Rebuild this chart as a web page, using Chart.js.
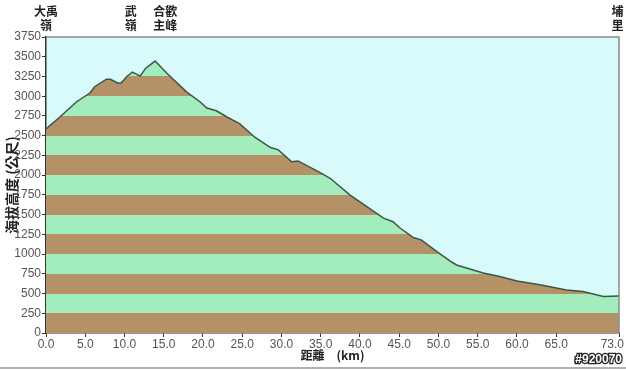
<!DOCTYPE html>
<html>
<head>
<meta charset="utf-8">
<script src="https://cdn.jsdelivr.net/npm/chart.js@4.4.0/dist/chart.umd.min.js"></script>
<style>
  html, body { margin: 0; padding: 0; background: #fff; }
  #wrap { width: 626px; height: 370px; position: relative; }
</style>
</head>
<body>
<div id="wrap"><canvas id="elev"></canvas></div>
<script>
// distance along the road (km) and elevation (m)
const distKm = [0, 1.8, 3.9, 5.6, 6.2, 7.7, 8.2, 9.2, 9.6, 10.3, 11.0, 12.0, 12.7, 13.9, 15.4, 17.9, 19.6, 20.5, 21.7, 23.0, 24.7, 26.6, 28.6, 29.6, 31.3, 32.1, 34.7, 36.2, 38.7, 43.0, 44.2, 45.1, 46.8, 47.8, 49.8, 51.5, 52.3, 55.7, 57.8, 60.0, 62.9, 66.3, 68.4, 71.0, 73.0];
const elevM = [2585, 2740, 2930, 3040, 3120, 3215, 3215, 3165, 3170, 3250, 3305, 3255, 3355, 3445, 3290, 3055, 2930, 2850, 2815, 2740, 2650, 2480, 2350, 2320, 2170, 2180, 2045, 1960, 1750, 1455, 1410, 1330, 1210, 1180, 1030, 912, 862, 760, 715, 660, 610, 545, 525, 462, 468];

const xTicks = [0, 5, 10, 15, 20, 25, 30, 35, 40, 45, 50, 55, 60, 65, 73];
const yMax = 3750;
const yStep = 250;

// place names shown above the plot
const placeKm = [0, 10.8, 15.2, 72.8];
const placeLines = [["大禹", "嶺"], ["武", "嶺"], ["合歡", "主峰"], ["埔", "里"]];

const skyCol = "#d9fafa";
const brownCol = "#b49167";
const greenCol = "#a3ecbb";
const lineCol = "#3c5546";

let pts = distKm.map((d, i) => ({ x: d, y: elevM[i] }));

function bandFill(c) {
  const chart = c.chart;
  if (!chart.chartArea) return brownCol;
  const ys = chart.scales.y;
  const y0 = ys.getPixelForValue(0);
  const y1 = ys.getPixelForValue(yMax);
  const g = chart.ctx.createLinearGradient(0, y0, 0, y1);
  for (let v = 0, i = 0; v < yMax; v += yStep, i++) {
    let col = i % 2 ? greenCol : brownCol;
    g.addColorStop(v / yMax, col);
    g.addColorStop((v + yStep) / yMax, col);
  }
  return g;
}

const decor = {
  id: 'decor',
  beforeDraw(chart) {
    const a = chart.chartArea;
    const ctx = chart.ctx;
    ctx.save();
    ctx.fillStyle = skyCol;
    ctx.fillRect(a.left, a.top, a.right - a.left, a.bottom - a.top);
    ctx.restore();
  },
  afterDraw(chart) {
    const a = chart.chartArea;
    const ctx = chart.ctx;
    const xs = chart.scales.x;
    ctx.save();
    // gray frame on top and right
    ctx.strokeStyle = "#8a8a8a";
    ctx.lineWidth = 1.5;
    ctx.beginPath();
    ctx.moveTo(a.left, a.top);
    ctx.lineTo(a.right, a.top);
    ctx.lineTo(a.right, a.bottom);
    ctx.stroke();

    // place labels
    ctx.fillStyle = "#222";
    ctx.font = "bold 12px 'Noto Sans CJK TC'";
    ctx.textAlign = "center";
    ctx.textBaseline = "middle";
    placeKm.forEach((k, i) => {
      let px = xs.getPixelForValue(k);
      ctx.fillText(placeLines[i][0], px, 11);
      ctx.fillText(placeLines[i][1], px, 25);
    });

    // image id in bottom corner
    ctx.font = "bold 12px 'Liberation Sans'";
    ctx.textAlign = "right";
    ctx.lineWidth = 2.5;
    ctx.strokeStyle = "#222";
    ctx.strokeText("#920070", 622, 360);
    ctx.fillStyle = "#fff";
    ctx.fillText("#920070", 622, 360);

    // bottom rule
    ctx.strokeStyle = "#b0b0b0";
    ctx.lineWidth = 2;
    ctx.beginPath();
    ctx.moveTo(0, 368);
    ctx.lineTo(626, 368);
    ctx.stroke();
    ctx.restore();
  }
};

new Chart(document.getElementById('elev'), {
  type: 'line',
  data: {
    datasets: [{
      data: pts,
      borderColor: lineCol,
      borderWidth: 1.5,
      pointRadius: 0,
      tension: 0,
      fill: 'start',
      backgroundColor: bandFill
    }]
  },
  options: {
    responsive: true,
    maintainAspectRatio: false,
    animation: false,
    layout: { padding: { top: 37, right: 7, left: 0, bottom: 0 } },
    plugins: { legend: { display: false }, tooltip: { enabled: false } },
    scales: {
      x: {
        type: 'linear',
        min: 0,
        max: 73,
        afterBuildTicks: s => { s.ticks = xTicks.map(v => ({ value: v })); },
        afterFit: s => { s.height = 37; s.paddingLeft = 0; s.paddingRight = 0; },
        ticks: {
          autoSkip: false,
          maxRotation: 0,
          padding: 0,
          color: "#555",
          font: { family: "Liberation Sans", size: 12 },
          // last label sits flush with the right edge in the original
          callback: v => v === 73 ? v.toFixed(1) + "\u2007\u2007" : v.toFixed(1)
        },
        grid: { drawOnChartArea: false, tickLength: 4, color: "#333" },
        border: { color: "#333", width: 1.5 },
        title: {
          display: true,
          text: "距離　(km)",
          color: "#222",
          padding: { top: 0, bottom: 7 },
          font: { family: "Noto Sans CJK TC", size: 12, weight: 'bold' }
        }
      },
      y: {
        min: 0,
        max: yMax,
        afterFit: s => { s.width = 46; s.paddingTop = 0; s.paddingBottom = 0; },
        ticks: {
          stepSize: yStep,
          padding: 1,
          color: "#555",
          font: { family: "Liberation Sans", size: 12 },
          callback: v => v
        },
        grid: { drawOnChartArea: false, tickLength: 4, color: "#333" },
        border: { color: "#333", width: 1.5 },
        title: {
          display: true,
          text: "海拔高度 (公尺)",
          color: "#222",
          padding: { top: 3, bottom: 0 },
          font: { family: "Noto Sans CJK TC", size: 14, weight: 'bold' }
        }
      }
    }
  },
  plugins: [decor]
});
</script>
</body>
</html>
